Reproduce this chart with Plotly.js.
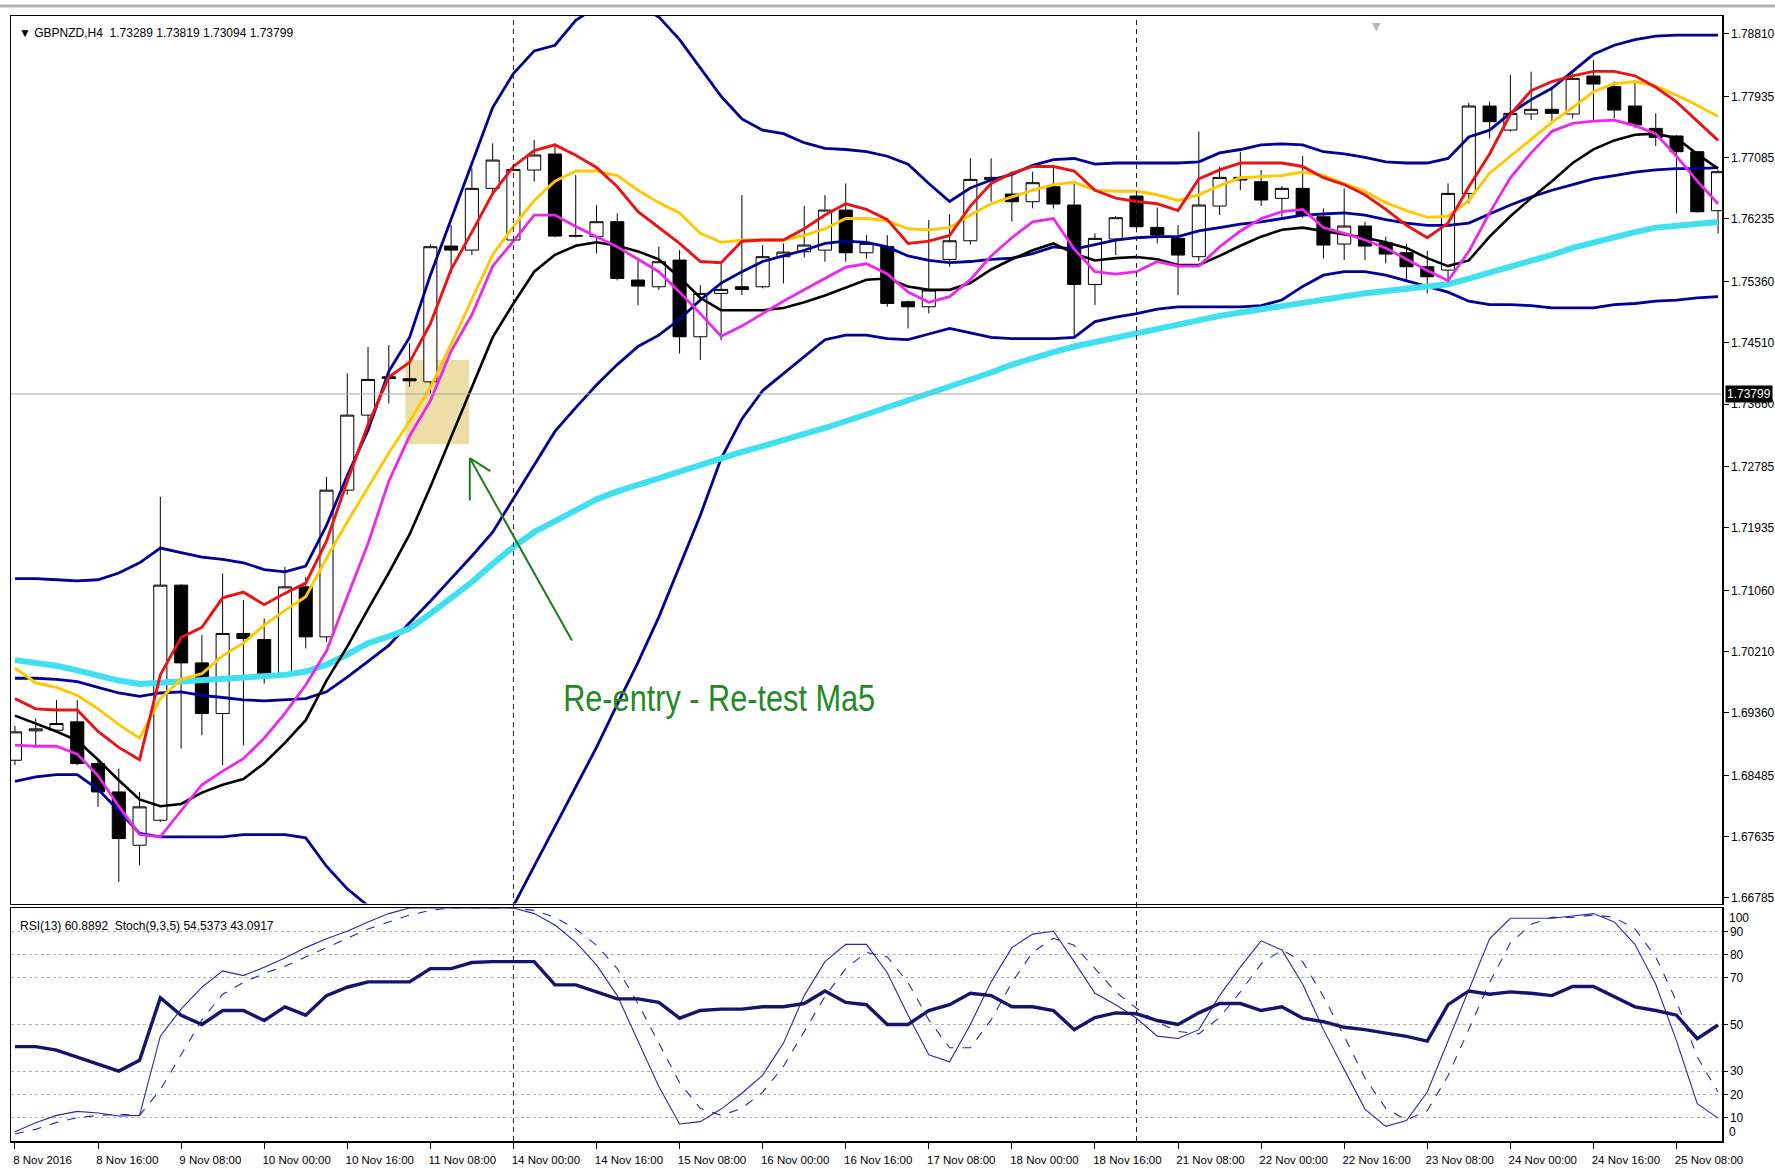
<!DOCTYPE html>
<html><head><meta charset="utf-8">
<script src="https://cdn.plot.ly/plotly-3.0.1.min.js"></script>
<style>html,body{margin:0;padding:0;background:#fff;}#chart{width:1775px;height:1172px;}</style>
</head><body><div id="chart"></div>
<script>
// ---- time axis ----
const tradingDays = ["8 Nov","9 Nov","10 Nov","11 Nov","14 Nov","15 Nov","16 Nov","17 Nov","18 Nov","21 Nov","22 Nov","23 Nov","24 Nov","25 Nov"];
const sessionHours = ["00:00","04:00","08:00","12:00","16:00","20:00"];
const barCount = 83;
const tickBars = ["8 Nov 00:00","8 Nov 16:00","9 Nov 08:00","10 Nov 00:00","10 Nov 16:00","11 Nov 08:00","14 Nov 00:00","14 Nov 16:00","15 Nov 08:00","16 Nov 00:00","16 Nov 16:00","17 Nov 08:00","18 Nov 00:00","18 Nov 16:00","21 Nov 08:00","22 Nov 00:00","22 Nov 16:00","23 Nov 08:00","24 Nov 00:00","24 Nov 16:00","25 Nov 08:00"];
const tickLabels = ["8 Nov 2016","8 Nov 16:00","9 Nov 08:00","10 Nov 00:00","10 Nov 16:00","11 Nov 08:00","14 Nov 00:00","14 Nov 16:00","15 Nov 08:00","16 Nov 00:00","16 Nov 16:00","17 Nov 08:00","18 Nov 00:00","18 Nov 16:00","21 Nov 08:00","22 Nov 00:00","22 Nov 16:00","23 Nov 08:00","24 Nov 00:00","24 Nov 16:00","25 Nov 08:00"];
const separatorBars = ["14 Nov 00:00","21 Nov 00:00"];

// ---- candles ----
const open = [1.68702,1.69111,1.69120,1.69236,1.68656,1.68261,1.67519,1.67867,1.71139,1.70057,
1.69352,1.70466,1.70382,1.69909,1.71115,1.70419,1.72461,1.73505,1.74039,1.74011,
1.73969,1.75858,1.75802,1.76661,1.75942,1.76916,1.77139,1.76006,1.75988,1.76197,
1.75385,1.75292,1.75663,1.74596,1.75199,1.75292,1.75292,1.75710,1.75779,1.75802,
1.76359,1.75765,1.75850,1.75083,1.75013,1.75672,1.75932,1.76786,1.76582,1.76475,
1.76684,1.76429,1.75324,1.75956,1.76554,1.76118,1.75965,1.75710,1.76415,1.76814,
1.76754,1.76522,1.76661,1.76266,1.75886,1.76137,1.75904,1.75765,1.75570,1.75524,
1.76591,1.77807,1.77473,1.77696,1.77761,1.77696,1.78225,1.78076,1.77807,1.77496,
1.77390,1.77171,1.76350];
const high = [1.69180,1.69282,1.69538,1.69538,1.68702,1.68586,1.68261,1.72368,1.71150,1.70443,
1.71301,1.70930,1.70675,1.71394,1.71250,1.72647,1.74085,1.74456,1.74480,1.74503,
1.75881,1.76150,1.76939,1.77287,1.77000,1.77334,1.77287,1.76846,1.76429,1.76313,
1.75663,1.75849,1.75802,1.75315,1.75617,1.76568,1.75872,1.75895,1.76415,1.76568,
1.76730,1.76011,1.76011,1.75100,1.76220,1.76299,1.77079,1.77079,1.76893,1.76893,
1.76963,1.76731,1.76034,1.76276,1.76582,1.76396,1.76150,1.77450,1.76963,1.77171,
1.76916,1.76693,1.77111,1.76382,1.76661,1.76197,1.75988,1.75886,1.75793,1.76731,
1.77850,1.77867,1.78239,1.78285,1.78076,1.78262,1.78447,1.78146,1.78146,1.77705,
1.77403,1.77180,1.76916];
const low = [1.68633,1.68888,1.69097,1.68633,1.68053,1.67009,1.67240,1.67844,1.68865,1.69050,
1.68633,1.68911,1.69770,1.69880,1.70257,1.70350,1.72400,1.73400,1.73668,1.73900,
1.73807,1.75477,1.75733,1.76600,1.75900,1.76754,1.75980,1.75979,1.75756,1.75380,
1.75037,1.75250,1.74364,1.74271,1.74549,1.75176,1.75270,1.75338,1.75700,1.75640,
1.75640,1.75686,1.75013,1.74712,1.74921,1.75570,1.75880,1.76475,1.76197,1.76382,
1.76380,1.74596,1.75037,1.75733,1.76050,1.75895,1.75176,1.75650,1.76290,1.76638,
1.76415,1.76266,1.76250,1.75686,1.75663,1.75663,1.75617,1.75362,1.75199,1.75400,
1.76452,1.77357,1.77450,1.77612,1.77589,1.77635,1.77612,1.77635,1.77496,1.77250,
1.76313,1.76322,1.76034];
const close = [1.69097,1.69139,1.69213,1.68656,1.68261,1.67612,1.68053,1.71139,1.70057,1.69352,
1.70466,1.70396,1.69909,1.71115,1.70419,1.72461,1.73505,1.74002,1.74016,1.73983,
1.75849,1.75802,1.76661,1.77055,1.76925,1.77125,1.75997,1.75997,1.76197,1.75408,
1.75301,1.75640,1.74596,1.75199,1.75255,1.75255,1.75710,1.75774,1.75872,1.76359,
1.75765,1.75895,1.75060,1.75013,1.75246,1.75932,1.76786,1.76814,1.76475,1.76740,
1.76443,1.75324,1.75965,1.76253,1.76127,1.76011,1.75733,1.76429,1.76814,1.76777,
1.76499,1.76661,1.76290,1.75872,1.76137,1.75858,1.75747,1.75570,1.75431,1.76591,
1.77807,1.77589,1.77705,1.77761,1.77705,1.78192,1.78113,1.77751,1.77543,1.77371,
1.77171,1.76336,1.76893];

// ---- indicator lines (price units) ----
const maCyan = [1.70095,1.70063,1.70016,1.69953,1.69874,1.69811,1.69764,1.69780,1.69811,1.69827,
1.69843,1.69859,1.69874,1.69890,1.69937,1.70032,1.70174,1.70331,1.70426,1.70536,
1.70741,1.70962,1.71182,1.71435,1.71671,1.71876,1.72033,1.72191,1.72333,1.72443,
1.72538,1.72632,1.72727,1.72821,1.72916,1.72995,1.73074,1.73153,1.73231,1.73326,
1.73420,1.73515,1.73609,1.73704,1.73799,1.73909,1.74003,1.74098,1.74208,1.74303,
1.74382,1.74460,1.74523,1.74587,1.74650,1.74713,1.74776,1.74823,1.74886,1.74933,
1.74981,1.75028,1.75075,1.75122,1.75170,1.75201,1.75233,1.75264,1.75296,1.75327,
1.75406,1.75485,1.75564,1.75658,1.75737,1.75832,1.75910,1.75989,1.76052,1.76115,
1.76147,1.76163,1.76194];
const bbUpper = [1.71230,1.71230,1.71214,1.71198,1.71214,1.71308,1.71450,1.71655,1.71592,1.71529,
1.71497,1.71450,1.71356,1.71324,1.71403,1.71970,1.72664,1.73294,1.74114,1.74587,
1.75453,1.76226,1.76998,1.77786,1.78259,1.78574,1.78653,1.78999,1.79188,1.79251,
1.79204,1.79047,1.78731,1.78337,1.77943,1.77628,1.77471,1.77423,1.77297,1.77218,
1.77202,1.77171,1.77108,1.76998,1.76729,1.76478,1.76666,1.76777,1.76856,1.76982,
1.77061,1.77077,1.76998,1.77014,1.77014,1.77014,1.77014,1.77030,1.77155,1.77202,
1.77266,1.77281,1.77266,1.77171,1.77140,1.77092,1.77030,1.77014,1.77014,1.77077,
1.77376,1.77471,1.77707,1.77896,1.78054,1.78290,1.78527,1.78653,1.78731,1.78779,
1.78794,1.78794,1.78794];
const bbMiddle = [1.69843,1.69843,1.69827,1.69795,1.69717,1.69638,1.69591,1.69638,1.69654,1.69606,
1.69575,1.69543,1.69528,1.69543,1.69559,1.69654,1.69859,1.70079,1.70300,1.70615,
1.70914,1.71230,1.71544,1.71876,1.72349,1.72821,1.73278,1.73609,1.73925,1.74208,
1.74460,1.74618,1.74839,1.75107,1.75343,1.75501,1.75643,1.75721,1.75800,1.75895,
1.75926,1.75910,1.75847,1.75721,1.75658,1.75627,1.75643,1.75674,1.75690,1.75753,
1.75847,1.75816,1.75879,1.75942,1.75974,1.75989,1.75989,1.76068,1.76115,1.76163,
1.76194,1.76241,1.76289,1.76304,1.76320,1.76289,1.76226,1.76178,1.76147,1.76147,
1.76178,1.76304,1.76430,1.76541,1.76635,1.76714,1.76793,1.76840,1.76888,1.76919,
1.76935,1.76935,1.76951];
const bbLower = [1.68409,1.68472,1.68503,1.68503,1.68298,1.67999,1.67684,1.67636,1.67636,1.67636,
1.67636,1.67668,1.67668,1.67668,1.67621,1.67227,1.66912,1.66675,1.66439,1.66281,
1.66202,1.66124,1.66045,1.66045,1.66675,1.67227,1.67778,1.68330,1.68881,1.69480,
1.70063,1.70694,1.71403,1.72112,1.72900,1.73452,1.73846,1.74082,1.74319,1.74555,
1.74618,1.74618,1.74571,1.74555,1.74634,1.74713,1.74650,1.74587,1.74571,1.74571,
1.74571,1.74587,1.74807,1.74870,1.74918,1.74981,1.75012,1.75012,1.75012,1.75012,
1.75028,1.75107,1.75296,1.75453,1.75501,1.75501,1.75453,1.75375,1.75296,1.75217,
1.75091,1.75044,1.75044,1.75028,1.74997,1.74997,1.74997,1.75044,1.75059,1.75091,
1.75107,1.75138,1.75154];
const maRed = [1.69559,1.69417,1.69401,1.69401,1.69102,1.68881,1.68708,1.69890,1.70410,1.70552,
1.70962,1.71041,1.70867,1.71025,1.71167,1.71750,1.72585,1.73373,1.74035,1.74240,
1.74776,1.75532,1.76052,1.76588,1.76966,1.77187,1.77266,1.77123,1.76951,1.76683,
1.76336,1.76115,1.75895,1.75643,1.75627,1.75926,1.75942,1.75942,1.76099,1.76289,
1.76447,1.76368,1.76226,1.75895,1.75926,1.76005,1.76415,1.76729,1.76872,1.76966,
1.76966,1.76903,1.76635,1.76525,1.76478,1.76447,1.76352,1.76793,1.76919,1.77014,
1.77014,1.77014,1.76966,1.76809,1.76714,1.76572,1.76368,1.76147,1.75974,1.76178,
1.76683,1.77140,1.77691,1.78022,1.78148,1.78227,1.78290,1.78290,1.78227,1.78069,
1.77865,1.77597,1.77329];
const maYellow = [1.69985,1.69780,1.69717,1.69606,1.69417,1.69197,1.69008,1.69559,1.69827,1.69906,
1.70158,1.70331,1.70583,1.70788,1.70977,1.71513,1.72018,1.72506,1.72979,1.73420,
1.73893,1.74492,1.75107,1.75737,1.76131,1.76493,1.76761,1.76903,1.76903,1.76840,
1.76635,1.76462,1.76320,1.76036,1.75910,1.75942,1.75942,1.75942,1.76005,1.76099,
1.76241,1.76241,1.76210,1.76099,1.76084,1.76115,1.76289,1.76447,1.76541,1.76635,
1.76714,1.76745,1.76635,1.76620,1.76620,1.76572,1.76493,1.76572,1.76698,1.76809,
1.76825,1.76840,1.76888,1.76840,1.76729,1.76620,1.76462,1.76352,1.76257,1.76273,
1.76493,1.76872,1.77108,1.77345,1.77581,1.77786,1.78006,1.78117,1.78148,1.78085,
1.77959,1.77817,1.77660];
const maMagenta = [1.68913,1.68897,1.68897,1.68787,1.68487,1.68062,1.67668,1.67636,1.67999,1.68361,
1.68550,1.68724,1.69008,1.69354,1.69748,1.70221,1.70977,1.71718,1.72585,1.73215,
1.73704,1.74397,1.74902,1.75579,1.75926,1.76289,1.76289,1.76131,1.75989,1.75847,
1.75674,1.75501,1.75217,1.74918,1.74602,1.74744,1.74918,1.75091,1.75249,1.75406,
1.75564,1.75611,1.75469,1.75217,1.75075,1.75154,1.75390,1.75721,1.75974,1.76194,
1.76241,1.75816,1.75501,1.75469,1.75501,1.75643,1.75579,1.75579,1.75847,1.76068,
1.76241,1.76336,1.76368,1.76115,1.76036,1.75942,1.75832,1.75674,1.75517,1.75375,
1.75784,1.76320,1.76809,1.77155,1.77455,1.77565,1.77597,1.77612,1.77534,1.77423,
1.77108,1.76761,1.76447];
const maBlack = [1.69323,1.69212,1.69102,1.68976,1.68708,1.68424,1.68156,1.68062,1.68093,1.68251,
1.68361,1.68440,1.68661,1.68944,1.69260,1.69811,1.70284,1.70804,1.71308,1.71844,
1.72506,1.73200,1.73893,1.74587,1.75059,1.75501,1.75737,1.75863,1.75910,1.75863,
1.75784,1.75674,1.75422,1.75138,1.74965,1.74965,1.74965,1.74997,1.75075,1.75170,
1.75280,1.75390,1.75406,1.75296,1.75249,1.75249,1.75343,1.75532,1.75674,1.75800,
1.75895,1.75753,1.75658,1.75690,1.75706,1.75674,1.75595,1.75595,1.75721,1.75863,
1.75989,1.76084,1.76115,1.76068,1.76021,1.75974,1.75910,1.75832,1.75690,1.75579,
1.75658,1.75989,1.76273,1.76525,1.76761,1.77014,1.77203,1.77329,1.77407,1.77423,
1.77360,1.77140,1.76935];

// ---- oscillators ----
const rsi = [40.5,40.5,39,36,33,30,34.6,61.5,54,50,
56,56,51.7,57.6,54,62.4,66,68.3,68.3,68.3,
74,74,76.6,77,77,77,67,67,64,61,
61,59.5,52.7,56,56.6,56.6,57.6,57.6,59,64.4,
59.5,58.5,50,50,56,58.5,63.4,62.4,57.6,57.6,
56,47.8,53,55,54.6,51.7,50,55,59,59,
56,57.6,52.7,51.2,48.8,47.8,46.3,44.9,42.9,58.5,
64.4,63,64,63.4,62.4,66.3,66.3,62,57.6,56,
54,43.9,49.8];
const stochMain = [4,7.8,11,12.7,12,10.7,11,45,56.6,66,
73,71,74.6,78.5,83,86.8,90,94,97.6,100,
100,100,100,100,100,97.6,92.7,85.4,75.6,62.4,
43,23.4,7.3,8.3,13.7,20.5,28.3,42,62.4,77,
84.4,84.4,72.2,54,37,34,50,68.3,83,88.8,
90,77,63.4,58.5,52.7,45,44,47.8,62.4,74.6,
85.9,82,67.3,47.8,30.7,13.7,6.3,8.8,21,43,
65,86.8,95.6,95.6,95.6,96.6,97.6,94,84.4,67.3,
43,16,9.8];
const stochSignal = [3,5,8,10,11,11.5,11,22,37,52,
63,68,72,75,79,83,87,91,94,97,
99,100,100,100,100,99,96,91,84,74,
59,42,25,14,11,14,21,32,47,62,
74,81,79,68,52,40,40,52,68,81,
87,84,74,64,57,51,47,46,53,64,
76,82,77,62,45,27,14,9,13,28,
48,68,85,93,96,96,97,96,91,79,
60,36,21];

// ---- axes labels / levels ----
const priceTicks = [1.78810,1.77935,1.77085,1.76235,1.75360,1.74510,1.73660,1.72785,1.71935,1.71060,1.70210,1.69360,1.68485,1.67635,1.66785];
const oscLevels = [10,20,30,50,70,80,90];
const oscBounds = [{label: "100", at: 95.5}, {label: "0", at: 4}];
const bidPrice = 1.73799;
const headerText = "▼ GBPNZD,H4  1.73289 1.73819 1.73094 1.73799";
const oscHeaderText = "RSI(13) 60.8892  Stoch(9,3,5) 54.5373 43.0917";
const noteText = "Re-entry - Re-test Ma5";
const highlightBox = {x0: 18.8, x1: 21.86, y0: 1.73102, y1: 1.74271};
const arrowTip = {x: 21.9, y: 1.72907};
const notePos = {x: 33.9, y: 1.69566};

// ---- build ----
const barTimes = [];
tradingDays.forEach(d => sessionHours.forEach(h => barTimes.push(d + " " + h)));
barTimes.length = barCount;
const xs = barTimes.map((_, i) => i);
const tickIdx = tickBars.map(t => barTimes.indexOf(t));

const navy = 'rgb(0,0,150)';
const F = 'Liberation Sans, DejaVu Sans, Arial, sans-serif';

function line(y, color, width, yaxis, dash) {
  return {type: 'scatter', mode: 'lines', x: xs, y: y, xaxis: yaxis === 'y2' ? 'x2' : 'x', yaxis: yaxis,
    line: {color: color, width: width, dash: dash || 'solid'}, hoverinfo: 'skip'};
}

const traces = [
  {type: 'candlestick', x: xs, open: open, high: high, low: low, close: close, xaxis: 'x', yaxis: 'y',
   increasing: {line: {color: '#000', width: 1}, fillcolor: '#ffffff'},
   decreasing: {line: {color: '#000', width: 1}, fillcolor: '#000000'},
   whiskerwidth: 0, hoverinfo: 'skip'},
  line(bbUpper, navy, 2.8, 'y'),
  line(bbMiddle, navy, 2.8, 'y'),
  line(bbLower, navy, 2.8, 'y'),
  line(maCyan, 'rgb(64,224,240)', 6, 'y'),
  line(maBlack, '#000000', 2.6, 'y'),
  line(maMagenta, 'rgb(235,40,235)', 2.8, 'y'),
  line(maYellow, 'rgb(255,200,0)', 2.9, 'y'),
  line(maRed, 'rgb(235,20,20)', 2.9, 'y'),
  line(stochSignal, 'rgb(40,40,170)', 1.1, 'y2', 'dash'),
  line(stochMain, 'rgb(40,40,170)', 1.1, 'y2'),
  line(rsi, 'rgb(20,20,110)', 3.4, 'y2')
];

const shapes = [];
separatorBars.forEach(t => {
  const i = barTimes.indexOf(t);
  shapes.push({type: 'line', xref: 'x', yref: 'paper', x0: i, x1: i, y0: 0, y1: 1,
    line: {color: '#222', width: 1, dash: '5px,4px'}});
});
shapes.push({type: 'rect', xref: 'x', yref: 'y', x0: highlightBox.x0, x1: highlightBox.x1,
  y0: highlightBox.y0, y1: highlightBox.y1, fillcolor: 'rgba(228,208,128,0.7)', line: {width: 0}, layer: 'below'});
shapes.push({type: 'line', xref: 'paper', yref: 'y', x0: 0, x1: 1, y0: bidPrice, y1: bidPrice,
  line: {color: '#a8a8a8', width: 1}});
shapes.push({type: 'line', xref: 'paper', yref: 'paper', x0: -0.01, x1: 1.04, y0: 1.0089, y1: 1.0089,
  line: {color: '#b0b0b0', width: 3}});

const green = 'rgb(30,125,30)';
const annotations = [
  {xref: 'paper', yref: 'paper', x: 0.0035, y: 0.993, xanchor: 'left', yanchor: 'top', showarrow: false,
   text: headerText, font: {family: F, size: 12, color: '#000'}},
  {xref: 'paper', yref: 'paper', x: 0.004, y: 0.199, xanchor: 'left', yanchor: 'top', showarrow: false,
   text: oscHeaderText, font: {family: F, size: 12, color: '#000'}},
  {xref: 'x', yref: 'y', x: notePos.x, y: notePos.y, xanchor: 'center', yanchor: 'middle', showarrow: false,
   text: noteText, font: {family: 'Liberation Sans, sans-serif', size: 37, color: '#238a23'}},
  {xref: 'x', yref: 'y', x: arrowTip.x, y: arrowTip.y, text: '', showarrow: true, ax: 103, ay: 184,
   arrowhead: 0, arrowwidth: 2, arrowcolor: green},
  {xref: 'x', yref: 'y', x: arrowTip.x, y: arrowTip.y, text: '', showarrow: true, ax: 0, ay: 44,
   arrowhead: 0, arrowwidth: 2, arrowcolor: green},
  {xref: 'x', yref: 'y', x: arrowTip.x, y: arrowTip.y, text: '', showarrow: true, ax: 22, ay: 14,
   arrowhead: 0, arrowwidth: 2, arrowcolor: green},
  {xref: 'paper', yref: 'y', x: 1.002, y: bidPrice, xanchor: 'left', yanchor: 'middle', showarrow: false,
   text: bidPrice.toFixed(5), bgcolor: '#000', borderpad: 1, font: {family: F, size: 12, color: '#fff'}},
  {xref: 'paper', yref: 'paper', x: 0.798, y: 0.998, xanchor: 'center', yanchor: 'top', showarrow: false,
   text: '▼', font: {family: 'DejaVu Sans', size: 11, color: '#b8b8b8'}}
];
oscBounds.forEach(b => annotations.push({xref: 'paper', yref: 'y2', x: 1.003, y: b.at, xanchor: 'left',
  yanchor: 'middle', showarrow: false, text: b.label, font: {family: F, size: 12, color: '#000'}}));

const layout = {
  width: 1775, height: 1172,
  margin: {l: 11, r: 53, t: 16, b: 31},
  paper_bgcolor: '#ffffff', plot_bgcolor: '#ffffff',
  showlegend: false, boxgap: 0.37, boxgroupgap: 0,
  xaxis: {domain: [0, 1], anchor: 'y', range: [-0.19, 82.19], showticklabels: false, ticks: '',
    showline: true, mirror: true, linecolor: '#000', linewidth: 1.5, showgrid: false, zeroline: false,
    rangeslider: {visible: false}},
  yaxis: {domain: [0.2111, 1], anchor: 'x', range: [1.66708, 1.79060], side: 'right',
    tickvals: priceTicks, ticktext: priceTicks.map(v => v.toFixed(5)), ticks: 'outside', ticklen: 5,
    tickcolor: '#000', showline: true, mirror: true, linecolor: '#000', linewidth: 1.5,
    showgrid: false, zeroline: false, tickfont: {family: F, size: 12, color: '#000'}},
  xaxis2: {domain: [0, 1], anchor: 'y2', range: [-0.19, 82.19], tickvals: tickIdx, ticktext: tickLabels,
    ticks: 'outside', ticklen: 6, tickcolor: '#000', ticklabelposition: 'outside right',
    ticklabelstandoff: 8, ticklabelshift: -3,
    showline: true, mirror: true, linecolor: '#000', linewidth: 1.5, showgrid: false, zeroline: false,
    tickfont: {family: F, size: 11.5, color: '#000'}},
  yaxis2: {domain: [0, 0.2071], anchor: 'x2', range: [0, 100], side: 'right',
    tickvals: oscLevels, ticktext: oscLevels.map(String), ticks: 'outside', ticklen: 4, tickcolor: '#000',
    showline: true, mirror: true, linecolor: '#000', linewidth: 1.5,
    showgrid: true, gridcolor: '#b4b4b4', griddash: 'dot', gridwidth: 1, zeroline: false,
    tickfont: {family: F, size: 12, color: '#000'}},
  shapes: shapes,
  annotations: annotations
};

Plotly.newPlot('chart', traces, layout, {displayModeBar: false, staticPlot: true}).then(gd => {
  gd.querySelectorAll('.annotation-text').forEach(el => {
    if (el.textContent === noteText) {
      el.setAttribute('textLength', '312');
      el.setAttribute('lengthAdjust', 'spacingAndGlyphs');
    }
  });
});
</script>
</body></html>
